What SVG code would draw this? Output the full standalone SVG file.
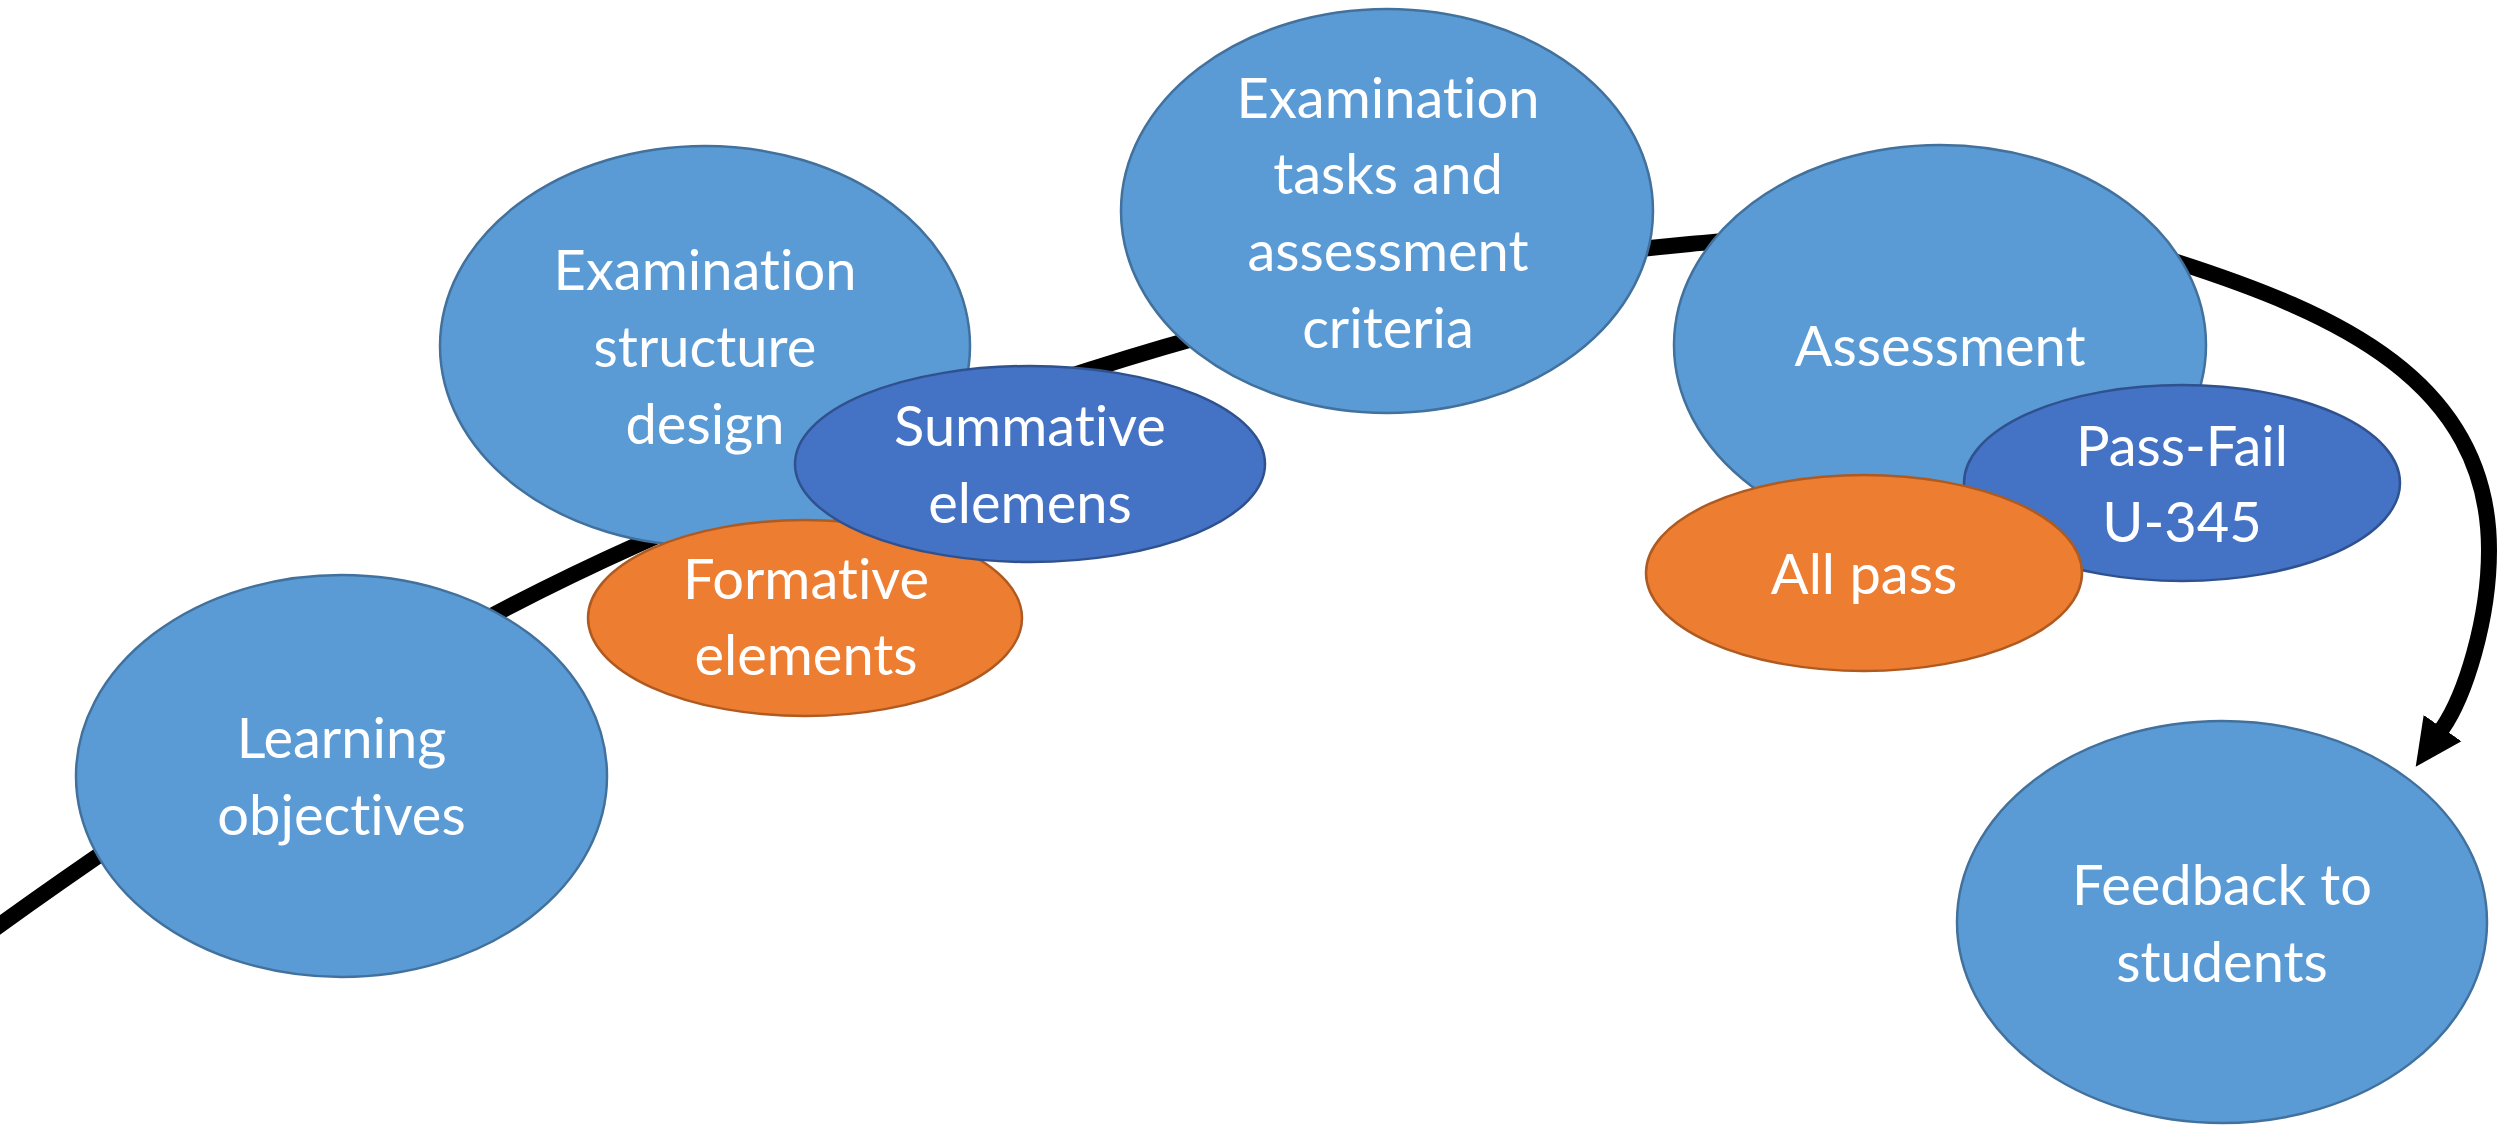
<svg xmlns="http://www.w3.org/2000/svg" width="2503" height="1125" viewBox="0 0 2503 1125">
  <style>
    .main { fill: #5B9BD5; stroke: #41719C; stroke-width: 2.5; }
    .sum { fill: #4472C4; stroke: #2F528F; stroke-width: 2.5; }
    .form { fill: #ED7D31; stroke: #AE5A21; stroke-width: 2.5; }
    .lbl { fill: #FFFFFF; font-family: Lato, "Open Sans", "Liberation Sans", sans-serif; font-size: 56px; text-anchor: middle; font-variant-ligatures: none; font-feature-settings: "liga" 0, "dlig" 0; }
    .flow { fill: none; stroke: #000000; stroke-width: 16; }
  </style>
  <defs>
    <marker id="arrowhead" markerUnits="userSpaceOnUse" markerWidth="50" markerHeight="50" viewBox="0 -25 50 50" refX="1" refY="0" orient="auto">
      <path d="M0,-23 L47,0 L0,23 Z" fill="#000000"/>
    </marker>
  </defs>
  <rect width="2503" height="1125" fill="#FFFFFF"/>

  <!-- process flow line running behind the nodes -->
  <g id="connectors">
    <path class="flow" marker-end="url(#arrowhead)" d="M-10,932 C212,772 425,640 637,545 C988,387 1339,276 1690,244 C1852,229 2015,209 2177,262 C2335,313 2489,380 2489,550 C2489,620 2465,696 2442,729"/>
  </g>

  <g id="learning-objectives">
    <ellipse class="main" cx="341.5" cy="776" rx="265.5" ry="201"/>
    <text class="lbl" x="341.5" y="758">Learning</text>
    <text class="lbl" x="341.5" y="835">objectives</text>
  </g>

  <g id="structure-design">
    <ellipse class="main" cx="705" cy="346" rx="265" ry="200"/>
    <text class="lbl" x="705" y="290">Examination</text>
    <text class="lbl" x="705" y="367">structure</text>
    <text class="lbl" x="705" y="444">design</text>
  </g>

  <g id="formative-elements">
    <ellipse class="form" cx="805" cy="618" rx="217" ry="98"/>
    <text class="lbl" x="806" y="599">Formative</text>
    <text class="lbl" x="806" y="675">elements</text>
  </g>

  <g id="summative-elements">
    <ellipse class="sum" cx="1030" cy="464" rx="235" ry="98"/>
    <text class="lbl" x="1030" y="446">Summative</text>
    <text class="lbl" x="1030" y="523">elemens</text>
  </g>

  <g id="tasks-criteria">
    <ellipse class="main" cx="1387" cy="211" rx="266" ry="202"/>
    <text class="lbl" x="1388" y="118">Examination</text>
    <text class="lbl" x="1388" y="194">tasks and</text>
    <text class="lbl" x="1388" y="271">assessment</text>
    <text class="lbl" x="1388" y="348">criteria</text>
  </g>

  <g id="assessment">
    <ellipse class="main" cx="1940" cy="345" rx="266" ry="200"/>
    <text class="lbl" x="1940" y="366">Assessment</text>
  </g>

  <g id="pass-fail">
    <ellipse class="sum" cx="2182" cy="483" rx="218" ry="98"/>
    <text class="lbl" x="2182" y="466">Pass-Fail</text>
    <text class="lbl" x="2182" y="542">U-345</text>
  </g>

  <g id="all-pass">
    <ellipse class="form" cx="1864" cy="573" rx="218" ry="98"/>
    <text class="lbl" x="1864" y="594">All pass</text>
  </g>

  <g id="feedback">
    <ellipse class="main" cx="2222" cy="922" rx="265" ry="201"/>
    <text class="lbl" x="2222" y="905">Feedback to</text>
    <text class="lbl" x="2222" y="982">students</text>
  </g>
</svg>
